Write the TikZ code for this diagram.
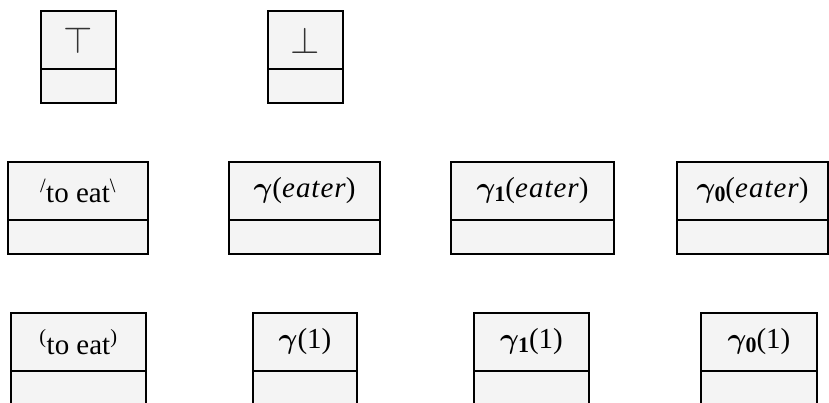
\documentclass[tikz,border=0pt]{standalone}
\usepackage{fix-cm}
\usepackage{amsmath,bm}
\usepackage{fontspec}
\setmainfont{Liberation Serif}
\usepackage{xcolor}
\definecolor{boxfill}{RGB}{244,244,244}
\usetikzlibrary{positioning}
\tikzset{
  cls/.style={draw,fill=boxfill,line width=1.5pt,inner sep=0pt,outer sep=0pt,%
    minimum height=58pt,font=\fontsize{29}{33}\selectfont,align=center},
  clsbot/.style={draw,fill=boxfill,line width=1.5pt,inner sep=0pt,outer sep=0pt,%
    minimum height=34pt},
}
\newcommand{\gam}{$\bm{\gamma}$}
\newcommand{\gsub}[1]{\gam\kern-1pt\raisebox{-0.25ex}{\fontsize{22}{24}\selectfont\textbf{#1}}}
\newcommand{\eater}{(\textit{e\kern1pt a\kern1pt t\kern1pt e\kern1pt r})}
\newcommand{\bnd}[1]{\color{black!80}\scalebox{1.3}{$#1$}}

\begin{document}
\begin{tikzpicture}[x=1pt,y=-1pt]
\useasboundingbox (0,0) rectangle (829,403);
\clip (0,0) rectangle (829,403);
% lattice bounds
\node[cls,minimum width=75pt] (top) at (78.5,40) {\bnd{\top}};
\node[clsbot,minimum width=75pt,below=0pt of top] (top-b) {};
\node[cls,minimum width=75pt] (bot) at (305.5,40) {\bnd{\bot}};
\node[clsbot,minimum width=75pt,below=0pt of bot] (bot-b) {};
% eater row
\node[cls,minimum width=140pt] (eat) at (78,191) {\textsuperscript{/}to eat\textsuperscript{\textbackslash}};
\node[clsbot,minimum width=140pt,below=0pt of eat] (eat-b) {};
\node[cls,minimum width=151pt] (geat) at (304.5,191) {\gam\eater};
\node[clsbot,minimum width=151pt,below=0pt of geat] (geat-b) {};
\node[cls,minimum width=163pt] (geat1) at (532.5,191) {\gsub{1}\eater};
\node[clsbot,minimum width=163pt,below=0pt of geat1] (geat1-b) {};
\node[cls,minimum width=151pt] (geat0) at (752.5,191) {\gsub{0}\eater};
\node[clsbot,minimum width=151pt,below=0pt of geat0] (geat0-b) {};
% one row
\node[cls,minimum width=135pt] (eatp) at (78.5,342) {\textsuperscript{(}to eat\textsuperscript{)}};
\node[clsbot,minimum width=135pt,below=0pt of eatp] (eatp-b) {};
\node[cls,minimum width=104pt] (gone) at (305,342) {\gam(1)};
\node[clsbot,minimum width=104pt,below=0pt of gone] (gone-b) {};
\node[cls,minimum width=115pt] (gone1) at (531.5,342) {\gsub{1}(1)};
\node[clsbot,minimum width=115pt,below=0pt of gone1] (gone1-b) {};
\node[cls,minimum width=116pt] (gone0) at (759,342) {\gsub{0}(1)};
\node[clsbot,minimum width=116pt,below=0pt of gone0] (gone0-b) {};
\end{tikzpicture}
\end{document}
